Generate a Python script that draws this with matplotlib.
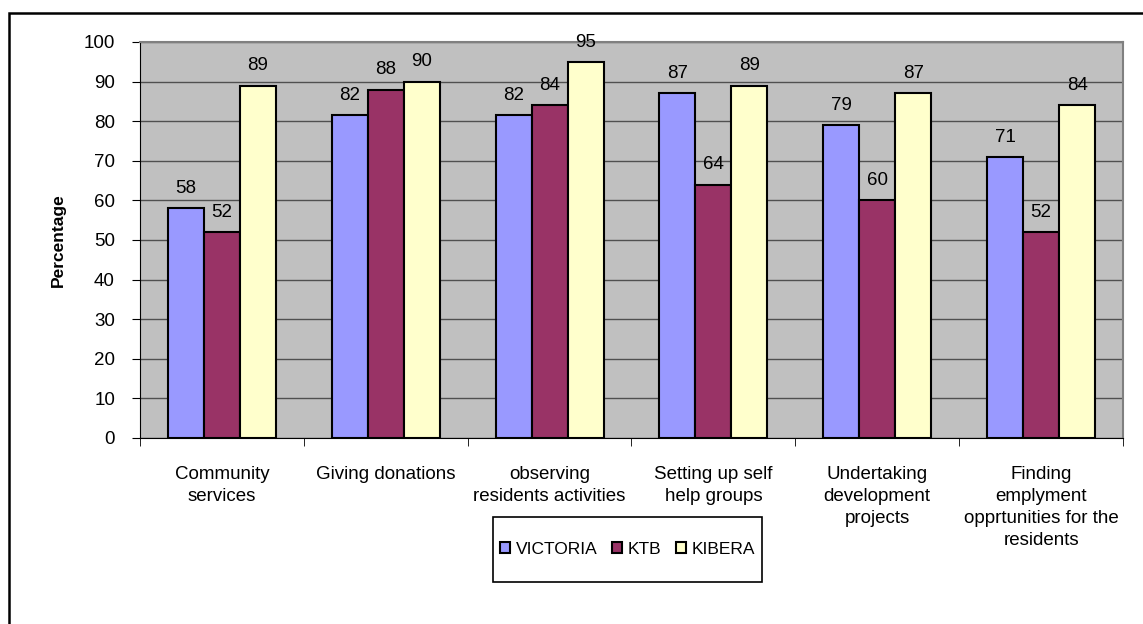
import matplotlib
matplotlib.use("Agg")
import matplotlib.pyplot as plt
import numpy as np
from matplotlib.patches import Rectangle

plt.rcParams['font.family'] = ['Liberation Sans', 'DejaVu Sans']

categories = ["Community\nservices", "Giving donations", "observing\nresidents activities",
              "Setting up self\nhelp groups", "Undertaking\ndevelopment\nprojects",
              "Finding\nemplyment\nopprtunities for the\nresidents"]
series_names = ["VICTORIA", "KTB", "KIBERA"]
victoria = [58, 81.6, 81.6, 87, 79, 71]
ktb = [52, 88, 84, 64, 60, 52]
kibera = [89, 90, 95, 89, 87, 84]
y_ticks = [0, 10, 20, 30, 40, 50, 60, 70, 80, 90, 100]

colors = ["#9999FF", "#993366", "#FFFFCC"]

fig = plt.figure(figsize=(11.43, 6.24), dpi=100)
# outer frame
fig.patches.append(Rectangle((9/1143, -0.01), 1.2, 1 - 13/624 + 0.01, transform=fig.transFigure,
                             fill=False, edgecolor='black', linewidth=1.8))
ax = fig.add_axes([140/1143, 1-438/624, (1123-140)/1143, (438-42)/624])
ax.set_facecolor("#C0C0C0")

x = np.arange(len(categories))
w = 0.22
for i, (vals, name) in enumerate(zip([victoria, ktb, kibera], series_names)):
    bars = ax.bar(x + (i-1)*w, vals, w, color=colors[i], edgecolor='black', linewidth=1.5,
                  label=name, zorder=3)
    for b, v in zip(bars, vals):
        ax.annotate(f"{v:.0f}", (b.get_x()+b.get_width()/2, v), xytext=(0, 8),
                    textcoords='offset points', ha='center', va='bottom', fontsize=13.5, zorder=4)

ax.set_ylim(0, 100)
ax.set_xlim(-0.5, len(categories)-0.5)
ax.set_yticks(y_ticks)
ax.yaxis.grid(True, color='#505050', linewidth=1, zorder=0)
ax.set_axisbelow(True)
ax.set_xticks(x)
ax.set_xticklabels(categories, fontsize=13.5, linespacing=1.4)
ax.tick_params(axis='x', length=0, pad=20)
ax.set_xticks(np.arange(len(categories)+1)-0.5, minor=True)
ax.tick_params(axis='x', which='minor', length=6, direction='out', color='black')
ax.tick_params(axis='y', labelsize=13.5, length=6, direction='out', pad=12)
for s in ['top', 'right']:
    ax.spines[s].set_color('#808080')
    ax.spines[s].set_linewidth(1.5)
ax.spines['left'].set_color('black')
ax.spines['bottom'].set_color('black')
ax.set_ylabel("Percentage", fontsize=12.5, fontweight='bold', labelpad=13)

leg = ax.legend(loc='center', bbox_to_anchor=(627.5/1143, 1-549.5/624), bbox_transform=fig.transFigure,
                ncol=3, frameon=False, fontsize=12.5,
                handlelength=0.6, handleheight=0.6, handletextpad=0.3, columnspacing=0.85,
                borderpad=0, borderaxespad=0)
for h in leg.legend_handles:
    h.set_linewidth(1.5)
fig.patches.append(Rectangle((493/1143, 1-582/624), (762-493)/1143, 65/624, transform=fig.transFigure,
                             fill=False, edgecolor='black', linewidth=1.2))

fig.savefig("out.png", dpi=100)
